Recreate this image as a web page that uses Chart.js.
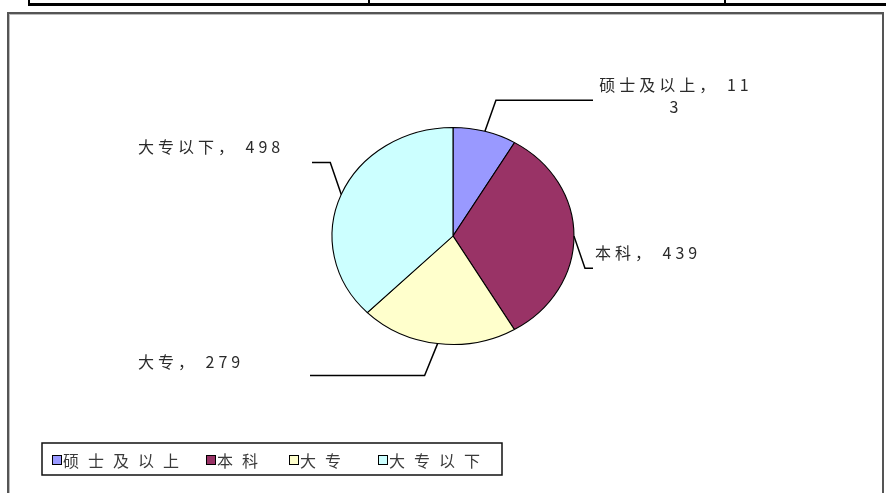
<!DOCTYPE html>
<html>
<head>
<meta charset="utf-8">
<script src="https://cdn.jsdelivr.net/npm/chart.js@4/dist/chart.umd.min.js"></script>
<style>
body{margin:0;background:#fff;width:886px;height:493px;overflow:hidden;position:relative;}
#tableLine{position:absolute;left:28px;top:3px;width:870px;height:3px;background:#000;}
.tcol{position:absolute;top:0;width:2px;height:5px;background:#000;}
#frame{position:absolute;left:7px;top:12px;width:873px;height:500px;border:2px solid #555;box-shadow:inset 1px 1px 0 #bbb;}
#myChart{position:absolute;left:0;top:0;}
</style>
</head>
<body>
<div id="tableLine"></div>
<div class="tcol" style="left:28px"></div>
<div class="tcol" style="left:368px"></div>
<div class="tcol" style="left:724px"></div>
<div id="frame"></div>
<canvas id="myChart" width="886" height="493"></canvas>
<script>
// 学历分布
var labels = ['硕士及以上', '本科', '大专', '大专以下'];
var values = [113, 439, 279, 498];
var colors = ['#9999FF', '#993366', '#FFFFCC', '#CCFFFF'];

// excel style ellipse: horizontal stretch of the pie
var stretchX = 1.115;
var labelFont = '16px "Noto Sans CJK SC", sans-serif';

// where the data labels sit and how the leader line bends
var labelLayout = [
	{x: 676, y: 85, align: 'center', dx: 11, dy: -31, endX: 593},
	{x: 595, y: 253, align: 'left', dx: 11, dy: 32, endX: 593},
	{x: 138, y: 362, align: 'left', dx: -13, dy: 32, endX: 310},
	{x: 138, y: 147, align: 'left', dx: -11, dy: -32, endX: 312}
];
// legend item positions (left of each colour box)
var legendX = [52, 206, 289, 378];

var wrapText = function(ctx, text, maxWidth){
	var lines = [];
	var cur = '';
	for (var i = 0; i < text.length; i++){
		var t = cur + text[i];
		if (ctx.measureText(t).width > maxWidth && cur !== ''){
			lines.push(cur);
			cur = text[i];
		} else {
			cur = t;
		}
	}
	lines.push(cur);
	return lines;
}

var pieExtras = {
	id: 'pieExtras',
	beforeDatasetsDraw: function(chart){
		var arc = chart.getDatasetMeta(0).data[0];
		var ctx = chart.ctx;
		ctx.save();
		ctx.translate(arc.x, arc.y);
		ctx.scale(stretchX, 1);
		ctx.translate(-arc.x, -arc.y);
	},
	afterDatasetsDraw: function(chart){
		var ctx = chart.ctx;
		ctx.restore();
		var arcs = chart.getDatasetMeta(0).data;
		ctx.save();
		ctx.font = labelFont;
		if ('letterSpacing' in ctx) ctx.letterSpacing = '4px';
		arcs.forEach(function(arc, i){
			var lay = labelLayout[i];
			var a = (arc.startAngle + arc.endAngle) / 2;
			var ex = arc.x + arc.outerRadius * stretchX * Math.cos(a);
			var ey = arc.y + arc.outerRadius * Math.sin(a);
			var bx = ex + lay.dx;
			var by = ey + lay.dy;
			ctx.strokeStyle = '#000';
			ctx.lineWidth = 1.5;
			ctx.beginPath();
			ctx.moveTo(ex, ey);
			ctx.lineTo(bx, by);
			ctx.lineTo(lay.endX, by);
			ctx.stroke();

			var text = labels[i] + '， ' + values[i];
			var lines = wrapText(ctx, text, 160);
			ctx.fillStyle = '#2a2a2a';
			ctx.textAlign = lay.align;
			ctx.textBaseline = 'middle';
			lines.forEach(function(line, k){
				ctx.fillText(line, lay.x, lay.y + k * 22);
			});
		});
		ctx.restore();
	},
	afterDraw: function(chart){
		// legend box at the bottom left
		var ctx = chart.ctx;
		ctx.save();
		ctx.strokeStyle = '#111';
		ctx.lineWidth = 1.5;
		ctx.strokeRect(42, 443, 460, 32);
		ctx.font = labelFont;
		if ('letterSpacing' in ctx) ctx.letterSpacing = '9px';
		ctx.textBaseline = 'middle';
		ctx.textAlign = 'left';
		var y = 460;
		labels.forEach(function(name, i){
			var x = legendX[i];
			ctx.fillStyle = colors[i];
			ctx.fillRect(x, y - 5, 10, 10);
			ctx.lineWidth = 1;
			ctx.strokeStyle = '#000';
			ctx.strokeRect(x + 0.5, y - 4.5, 9, 9);
			ctx.fillStyle = '#3a3a3a';
			ctx.fillText(name, x + 11, y + 1);
		});
		ctx.restore();
	}
};

var ctx = document.getElementById('myChart').getContext('2d');
var chart = new Chart(ctx, {
	type: 'pie',
	data: {
		labels: labels,
		datasets: [{
			data: values,
			backgroundColor: colors,
			borderColor: '#000',
			borderWidth: 1
		}]
	},
	options: {
		responsive: false,
		animation: false,
		layout: {
			padding: {top: 127, bottom: 148, left: 344, right: 324}
		},
		plugins: {
			legend: {display: false},
			tooltip: {enabled: false}
		}
	},
	plugins: [pieExtras]
});
</script>
</body>
</html>
